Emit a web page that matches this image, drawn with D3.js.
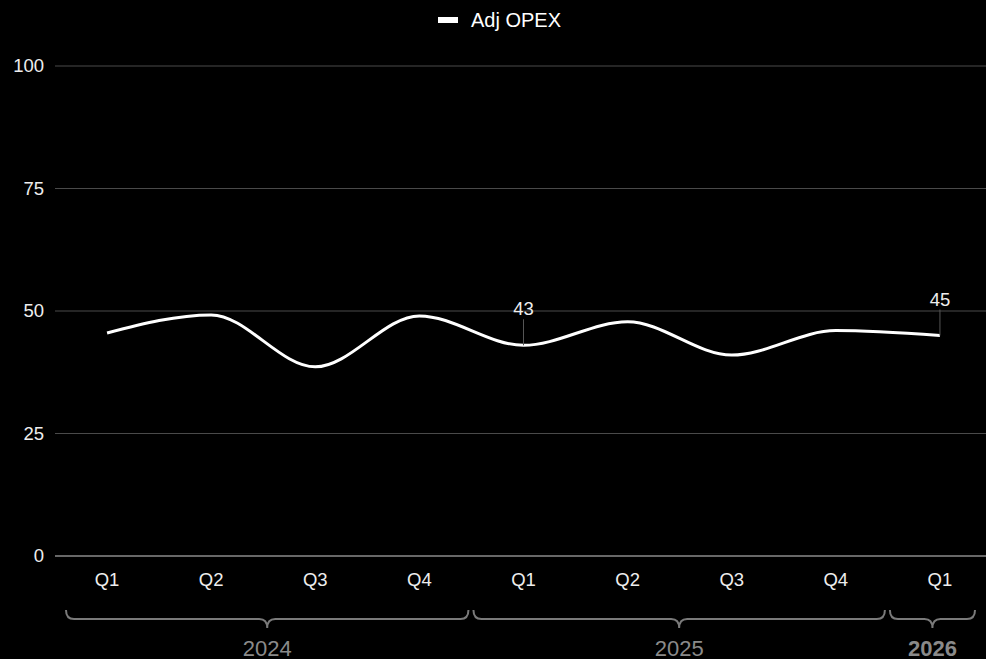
<!DOCTYPE html>
<html>
<head>
<meta charset="utf-8">
<script src="https://cdn.jsdelivr.net/npm/d3@7"></script>
<style>
  html, body { margin: 0; padding: 0; background: #000; }
  svg { display: block; font-family: "Liberation Sans", Arial, sans-serif; }
</style>
</head>
<body>
<div id="chart"></div>
<script>
// Données
const quarters = ["Q1", "Q2", "Q3", "Q4", "Q1", "Q2", "Q3", "Q4", "Q1"];
const years = ["2024", "2024", "2024", "2024", "2025", "2025", "2025", "2025", "2026"];
const opex = [45.5, 49.2, 38.6, 49, 43, 47.8, 41, 46, 45];
const yTicks = [0, 25, 50, 75, 100];
const labelled = [4, 8]; // points avec étiquette
const seriesName = "Adj OPEX";

const width = 986, height = 659;
const margin = { top: 66, right: -6, bottom: 103, left: 55 };

const svg = d3.select("#chart").append("svg")
    .attr("width", width)
    .attr("height", height);

const x = d3.scaleBand()
    .domain(d3.range(quarters.length))
    .range([margin.left, width - margin.right]);

const y = d3.scaleLinear()
    .domain([0, 100])
    .range([height - margin.bottom, margin.top]);

// Grille
svg.append("g")
    .selectAll("line")
    .data(yTicks)
    .join("line")
    .attr("x1", margin.left)
    .attr("x2", width)
    .attr("y1", d => y(d))
    .attr("y2", d => y(d))
    .attr("stroke", d => d === 0 ? "#cfcfcf" : "#4a4a4a")
    .attr("stroke-width", 1);

// Axe Y
svg.append("g")
    .selectAll("text")
    .data(yTicks)
    .join("text")
    .attr("x", 44)
    .attr("y", d => y(d))
    .attr("dy", "0.35em")
    .attr("text-anchor", "end")
    .attr("fill", "#eeeeee")
    .attr("font-size", 18.5)
    .text(d => d);

// Axe X : trimestres
svg.append("g")
    .selectAll("text")
    .data(quarters)
    .join("text")
    .attr("x", (d, i) => x(i) + x.bandwidth() / 2)
    .attr("y", y(0) + 30)
    .attr("text-anchor", "middle")
    .attr("fill", "#eeeeee")
    .attr("font-size", 18.5)
    .text(d => d);

// Accolades des années
const groups = d3.groups(d3.range(years.length), i => years[i]);
const braceY = y(0) + 63, braceH = 9, r = 8;
groups.forEach(([year, idx], gi) => {
    const x0 = x(idx[0]) + (gi === 0 ? 11 : 2);
    const x1 = x(idx[idx.length - 1]) + x.bandwidth() - (gi === groups.length - 1 ? 17 : 3);
    const xm = (x0 + x1) / 2;
    const p = d3.path();
    p.moveTo(x0, braceY - braceH);
    p.quadraticCurveTo(x0, braceY, x0 + r, braceY);
    p.lineTo(xm - r, braceY);
    p.quadraticCurveTo(xm, braceY, xm, braceY + braceH);
    p.quadraticCurveTo(xm, braceY, xm + r, braceY);
    p.lineTo(x1 - r, braceY);
    p.quadraticCurveTo(x1, braceY, x1, braceY - braceH);
    svg.append("path")
        .attr("d", p.toString())
        .attr("fill", "none")
        .attr("stroke", "#7a7a7a")
        .attr("stroke-width", 2);
    svg.append("text")
        .attr("x", xm)
        .attr("y", braceY + 37)
        .attr("text-anchor", "middle")
        .attr("fill", "#8a8a8a")
        .attr("font-size", 22)
        .attr("font-weight", gi === groups.length - 1 ? "bold" : "normal")
        .text(year);
});

// Ligne
const line = d3.line()
    .x((d, i) => x(i) + x.bandwidth() / 2)
    .y(d => y(d))
    .curve(d3.curveMonotoneX);

svg.append("path")
    .datum(opex)
    .attr("d", line)
    .attr("fill", "none")
    .attr("stroke", "#ffffff")
    .attr("stroke-width", 3);

// Étiquettes
labelled.forEach(i => {
    const cx = x(i) + x.bandwidth() / 2;
    const cy = y(opex[i]);
    svg.append("line")
        .attr("x1", cx).attr("x2", cx)
        .attr("y1", cy - 26).attr("y2", cy)
        .attr("stroke", "#555")
        .attr("stroke-width", 1);
    svg.append("text")
        .attr("x", cx)
        .attr("y", cy - 30)
        .attr("text-anchor", "middle")
        .attr("fill", "#eeeeee")
        .attr("font-size", 18.5)
        .text(Math.round(opex[i]));
});

// Légende
const legend = svg.append("g");
legend.append("rect")
    .attr("x", 438).attr("y", 17)
    .attr("width", 20).attr("height", 6)
    .attr("fill", "#ffffff");
legend.append("text")
    .attr("x", 471).attr("y", 20)
    .attr("dy", "0.35em")
    .attr("fill", "#ffffff")
    .attr("font-size", 20)
    .text(seriesName);
</script>
</body>
</html>
